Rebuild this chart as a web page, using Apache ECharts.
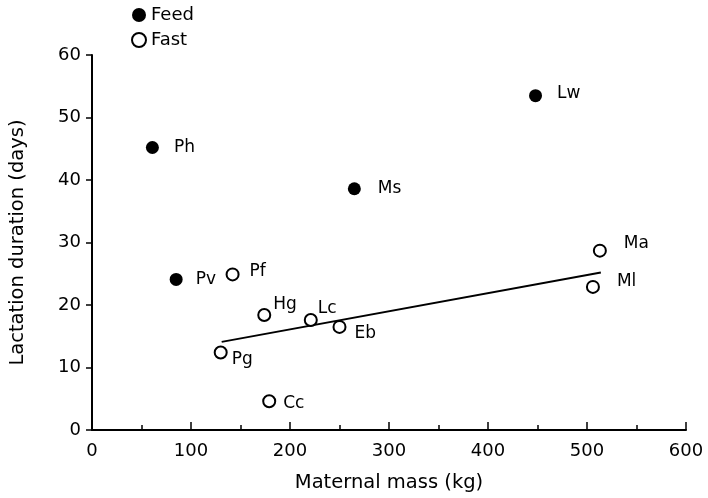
<!DOCTYPE html>
<html>
<head>
<meta charset="utf-8">
<script src="https://cdn.jsdelivr.net/npm/echarts@6/dist/echarts.min.js"></script>
<style>
  html, body { margin: 0; padding: 0; background: #fff; }
  #chart { width: 708px; height: 498px; }
</style>
</head>
<body>
<div id="chart"></div>
<script>
// species that feed during lactation
var feedNames = ['Ph', 'Pv', 'Ms', 'Lw']
var feedMass = [61, 85, 265, 448]
var feedDays = [45.2, 24.1, 38.6, 53.5]

// species that fast during lactation
var fastNames = ['Pf', 'Hg', 'Lc', 'Eb', 'Pg', 'Cc', 'Ma', 'Ml']
var fastMass = [142, 174, 221, 250, 130, 179, 513, 506]
var fastDays = [24.9, 18.4, 17.6, 16.5, 12.4, 4.6, 28.7, 22.9]

// regression line end points
var fitMass = [131, 514]
var fitDays = [14.1, 25.2]

var xTicks = [0, 100, 200, 300, 400, 500, 600]
var yTicks = [0, 10, 20, 30, 40, 50, 60]

// label placement for each species (offset in px)
var labelOffset = {
  Ph: [10, 0], Pv: [8, 0], Ms: [12, 0], Lw: [10, -2],
  Pf: [5, -3], Hg: [-3, -10], Lc: [-5, -11], Eb: [3, 7],
  Pg: [-1, 7], Cc: [2, 2], Ma: [12, -7], Ml: [12, -5]
}

var font = '"DejaVu Sans", sans-serif'

function makePoints (names, xs, ys) {
  var out = []
  for (var i = 0; i < names.length; i++) {
    var off = labelOffset[names[i]]
    out.push({
      name: names[i],
      value: [xs[i], ys[i]],
      label: { show: true, position: 'right', offset: off }
    })
  }
  return out
}

var myChart = echarts.init(document.getElementById('chart'), null, { renderer: 'canvas' })
var option = {
  animation: false,
  backgroundColor: '#fff',
  textStyle: { fontFamily: font, color: '#000' },
  grid: { left: 91, right: 22, top: 55, bottom: 66, containLabel: false },
  legend: {
    orient: 'vertical',
    left: 126,
    top: 1,
    itemGap: 7,
    itemWidth: 14,
    itemHeight: 14,
    textStyle: { fontSize: 18, color: '#000', fontFamily: font, padding: [0, 0, 0, 0] },
    data: [
      { name: 'Feed', icon: 'circle' },
      { name: 'Fast', icon: 'circle' }
    ]
  },
  xAxis: {
    type: 'value',
    min: 0,
    max: 600,
    interval: 100,
    name: 'Maternal mass (kg)',
    nameLocation: 'middle',
    nameGap: 43,
    nameTextStyle: { fontSize: 19.5, color: '#000', fontFamily: font },
    axisLine: { show: true, lineStyle: { color: '#000', width: 2 } },
    axisTick: { show: true, inside: true, length: 8, lineStyle: { color: '#000', width: 1.5 } },
    minorTick: { show: true, splitNumber: 2, length: 5, lineStyle: { color: '#000', width: 1.5 } },
    axisLabel: {
      fontSize: 18, color: '#000', margin: 12,
      formatter: function (v) { return xTicks.indexOf(v) >= 0 ? String(v) : '' }
    },
    splitLine: { show: false }
  },
  yAxis: {
    type: 'value',
    min: 0,
    max: 60,
    interval: 10,
    name: 'Lactation duration (days)',
    nameLocation: 'middle',
    nameRotate: 90,
    nameGap: 64,
    nameTextStyle: { fontSize: 19.5, color: '#000', fontFamily: font },
    axisLine: { show: true, lineStyle: { color: '#000', width: 2 } },
    axisTick: { show: true, inside: false, length: 6, lineStyle: { color: '#000', width: 1.5 } },
    axisLabel: {
      fontSize: 18, color: '#000', margin: 11,
      formatter: function (v) { return yTicks.indexOf(v) >= 0 ? String(v) : '' }
    },
    splitLine: { show: false }
  },
  series: [
    {
      name: 'Feed',
      type: 'scatter',
      symbol: 'circle',
      symbolSize: 13,
      itemStyle: { color: '#000', opacity: 1 },
      label: { color: '#000', fontSize: 17, fontFamily: font, formatter: '{b}' },
      data: makePoints(feedNames, feedMass, feedDays),
      z: 3
    },
    {
      name: 'Fast',
      type: 'scatter',
      symbol: 'circle',
      symbolSize: 12,
      itemStyle: { color: '#fff', borderColor: '#000', borderWidth: 2, opacity: 1 },
      label: { color: '#000', fontSize: 17, fontFamily: font, formatter: '{b}' },
      data: makePoints(fastNames, fastMass, fastDays),
      z: 3
    },
    {
      name: 'fit',
      type: 'line',
      symbol: 'none',
      silent: true,
      lineStyle: { color: '#000', width: 2 },
      data: [[fitMass[0], fitDays[0]], [fitMass[1], fitDays[1]]],
      z: 2
    }
  ]
}
myChart.setOption(option)
</script>
</body>
</html>
